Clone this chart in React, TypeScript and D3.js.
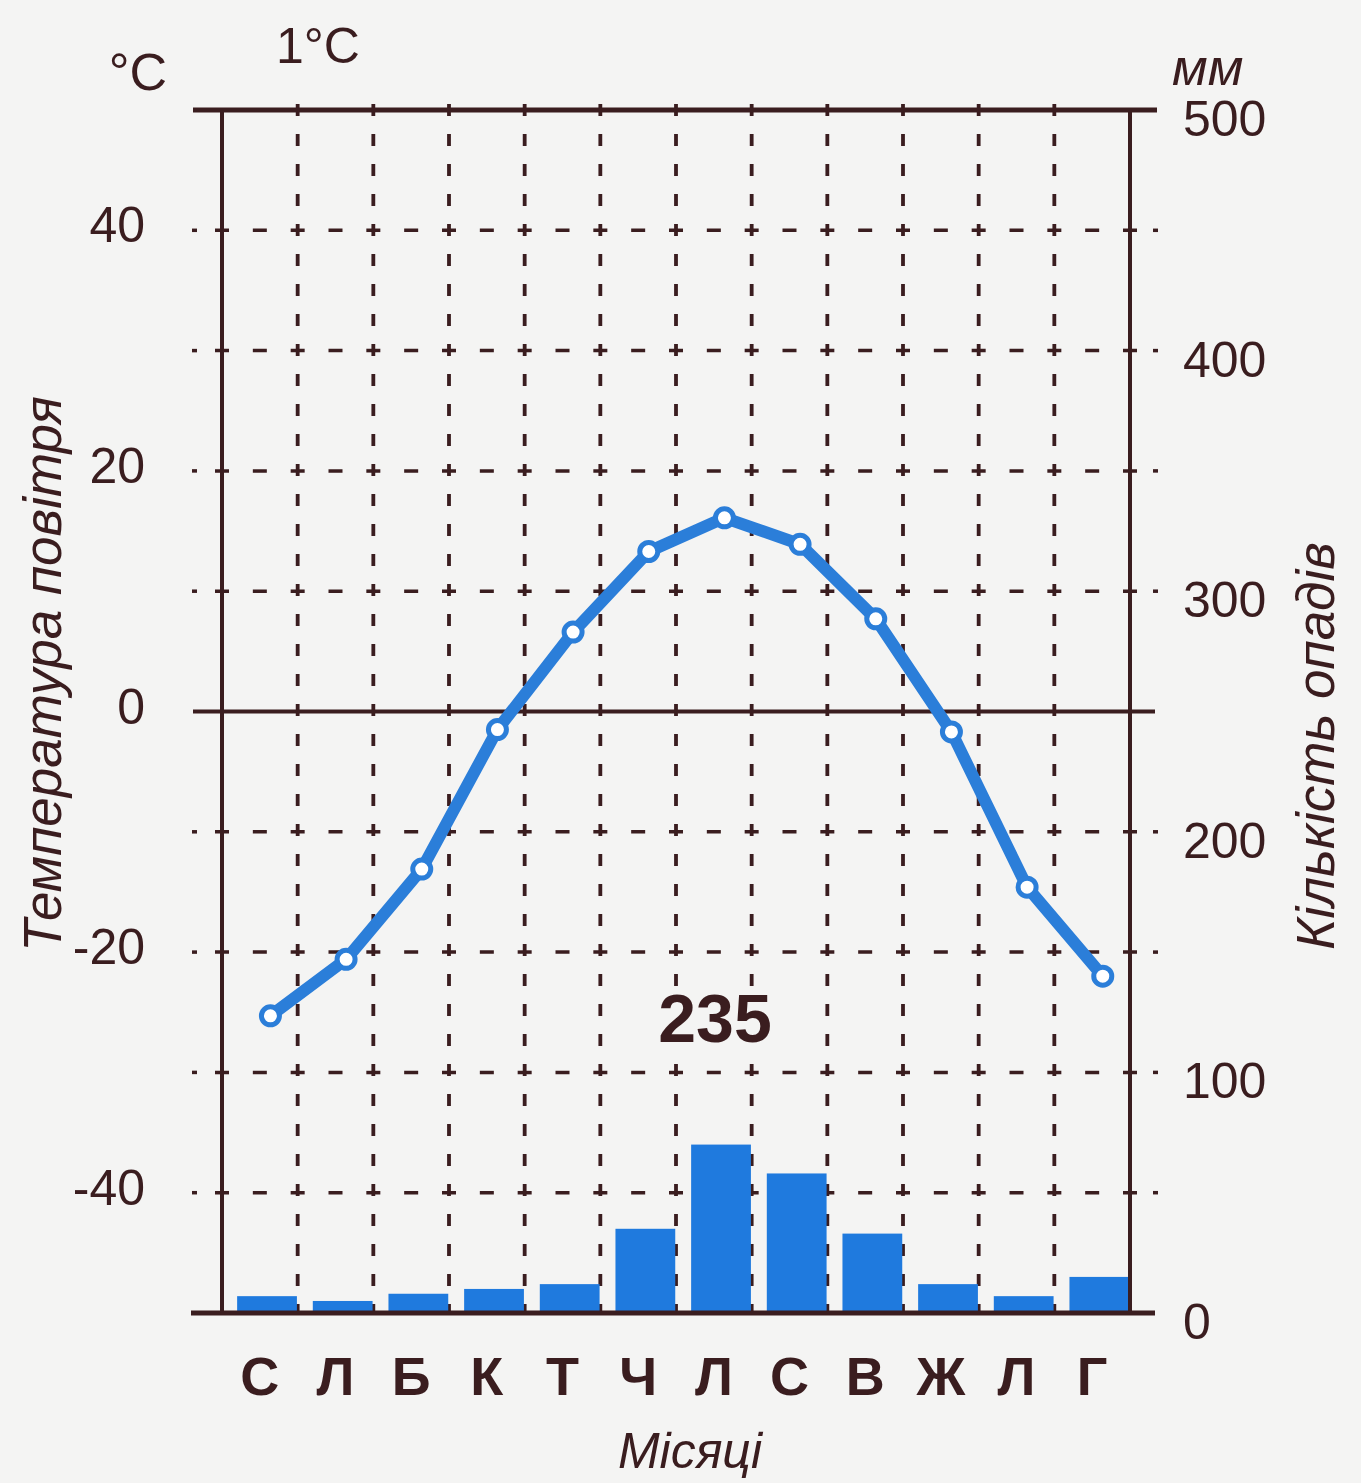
import React from 'react';
import * as d3 from 'd3';

// months (Ukrainian initials, Jan..Dec)
const months = ['С', 'Л', 'Б', 'К', 'Т', 'Ч', 'Л', 'С', 'В', 'Ж', 'Л', 'Г'];
// mean monthly air temperature, °C
const temperature = [-25.3, -20.6, -13.1, -1.5, 6.6, 13.3, 16.1, 13.9, 7.7, -1.7, -14.6, -22.0];
// monthly precipitation, mm
const precipitation = [7, 5, 8, 10, 12, 35, 70, 58, 33, 12, 7, 15];
const tempTicks = [40, 20, 0, -20, -40];
const precipTicks = [500, 400, 300, 200, 100, 0];
const gridTemps = [40, 30, 20, 10, -10, -20, -30, -40];
const totalLabel = '235';
const amplitudeLabel = '1°C';

const W = 1361;
const H = 1483;
const left = 222;
const right = 1130;
const top = 110;
const bottom = 1313;

const ink = '#3a1d1f';
const blue = '#2b7ed9';
const barBlue = '#1f7ade';
const paper = '#f4f4f3';
const font = '"Liberation Sans", Arial, sans-serif';

const App = () => {
  const x = d3.scaleBand<number>().domain(d3.range(12)).range([left, right]).padding(0);
  const bw = x.bandwidth();
  const y = d3.scaleLinear().domain([-50, 50]).range([bottom, top]);
  const yP = d3.scaleLinear().domain([0, 500]).range([bottom, top]);

  // points sit a little right of the column centre, like in the original drawing
  const px = (i: number) => (x(i) as number) + bw * 0.64;
  const line = d3.line<number>()
    .x((_, i) => px(i))
    .y(d => y(d))
    .curve(d3.curveLinear);

  return (
    <svg width={W} height={H} style={{ position: 'absolute', left: 0, top: 0, background: paper }}
      fontFamily={font}>
      <rect width={W} height={H} fill={paper} />

      {/* dashed horizontal grid */}
      {gridTemps.map(t => (
        <g key={'h' + t}>
          <line x1={left - 7} x2={right + 7} y1={y(t)} y2={y(t)} stroke={ink} strokeWidth={3.5}
            strokeDasharray={`14 ${bw / 2 - 14}`} />
          <line x1={192} x2={197} y1={y(t)} y2={y(t)} stroke={ink} strokeWidth={3.5} />
          <line x1={right + 23} x2={right + 28} y1={y(t)} y2={y(t)} stroke={ink} strokeWidth={3.5} />
        </g>
      ))}
      {/* dashed vertical grid */}
      {d3.range(1, 12).map(i => (
        <line key={'v' + i} x1={x(i)} x2={x(i)} y1={top - 6} y2={bottom} stroke={ink} strokeWidth={3.8}
          strokeDasharray="12 18" />
      ))}

      {/* precipitation bars */}
      {precipitation.map((p, i) => (
        <rect key={'b' + i} x={(x(i) as number) + bw * 0.2} width={bw * 0.79}
          y={yP(p)} height={yP(0) - yP(p)} fill={barBlue} />
      ))}

      {/* frame */}
      <line x1={193} x2={1157} y1={top} y2={top} stroke={ink} strokeWidth={5} />
      <line x1={191} x2={1155} y1={bottom} y2={bottom} stroke={ink} strokeWidth={5} />
      <line x1={193} x2={1155} y1={y(0)} y2={y(0)} stroke={ink} strokeWidth={4} />
      <line x1={left} x2={left} y1={top} y2={bottom} stroke={ink} strokeWidth={4} />
      <line x1={right} x2={right} y1={top} y2={bottom} stroke={ink} strokeWidth={4} />

      {/* annual total, on a paper patch over the grid */}
      <rect x={652} y={986} width={126} height={62} fill={paper} />
      <text x={715} y={1042} textAnchor="middle" fontSize={68} fontWeight="bold" fill={ink}>{totalLabel}</text>

      {/* temperature line */}
      <path d={line(temperature) || ''} fill="none" stroke={blue} strokeWidth={12}
        strokeLinejoin="round" strokeLinecap="round" />
      {temperature.map((t, i) => (
        <circle key={'c' + i} cx={px(i)} cy={y(t)} r={9} fill="#fff" stroke={blue} strokeWidth={5} />
      ))}

      {/* left axis labels */}
      {tempTicks.map(t => (
        <text key={'lt' + t} x={145} y={y(t) - 5} textAnchor="end" dominantBaseline="central"
          fontSize={50} fill={ink}>{t}</text>
      ))}
      {/* right axis labels */}
      {precipTicks.map(p => (
        <text key={'rt' + p} x={1183} y={yP(p) + 9} textAnchor="start" dominantBaseline="central"
          fontSize={50} fill={ink}>{p}</text>
      ))}

      {/* month labels */}
      {months.map((m, i) => (
        <text key={'m' + i} x={(x(i) as number) + bw / 2} y={1395} textAnchor="middle"
          fontSize={54} fontWeight="bold" fill={ink}>{m}</text>
      ))}

      <text x={138} y={90} textAnchor="middle" fontSize={52} fill={ink}>°C</text>
      <text x={276} y={63} fontSize={50} fill={ink}>{amplitudeLabel}</text>
      <text x={1172} y={85} fontSize={52} fontStyle="italic" fill={ink}>мм</text>
      <text x={690} y={1468} textAnchor="middle" fontSize={50} fontStyle="italic" fill={ink}>Місяці</text>

      <text transform="translate(61,674) rotate(-90)" textAnchor="middle" fontSize={53}
        fontStyle="italic" fill={ink}>Температура повітря</text>
      <text transform="translate(1334,746) rotate(-90)" textAnchor="middle" fontSize={53}
        fontStyle="italic" fill={ink}>Кількість опадів</text>
    </svg>
  );
};

export default App;
